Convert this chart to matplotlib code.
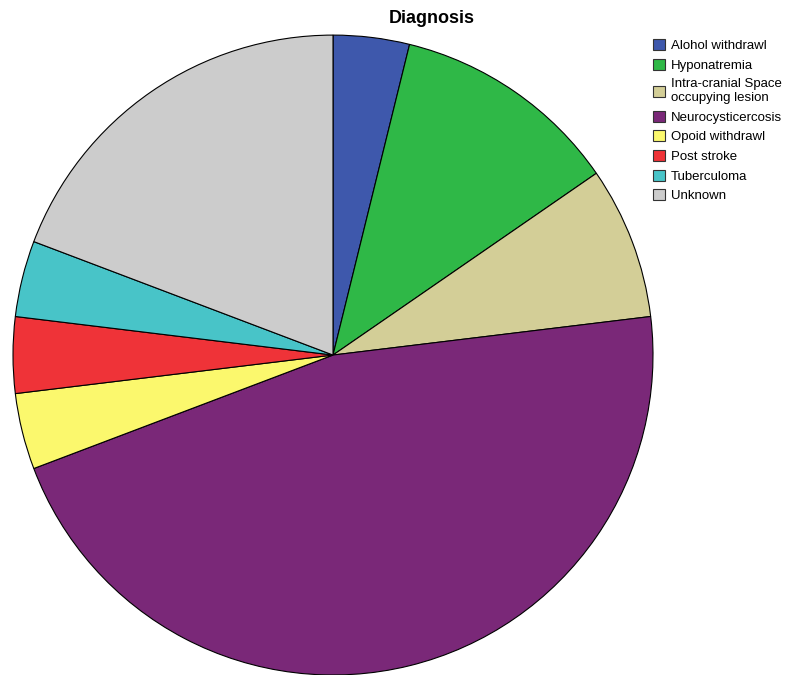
import matplotlib
matplotlib.use('Agg')
import matplotlib.pyplot as plt
from matplotlib.patches import Patch

plt.rcParams['font.family'] = ['Liberation Sans', 'DejaVu Sans']

categories = ['Alohol withdrawl', 'Hyponatremia', 'Intra-cranial Space\noccupying lesion',
              'Neurocysticercosis', 'Opoid withdrawl', 'Post stroke', 'Tuberculoma', 'Unknown']
counts = [1, 3, 2, 12, 1, 1, 1, 5]
colors = ['#3e58ac', '#2fb847', '#d3ce97', '#7a2878', '#fbf86d', '#ef3338', '#48c4c8', '#cccccc']

fig = plt.figure(figsize=(8.03, 6.75), dpi=100)
ax = fig.add_axes([0.0162, 0.0, 0.797, 0.948])

ax.pie(counts, colors=colors, startangle=90, counterclock=False,
       wedgeprops={'edgecolor': 'black', 'linewidth': 0.8})
ax.set_xlim(-1.0, 1.0)
ax.set_ylim(-1.0, 1.0)
ax.set_aspect('auto')
ax.axis('off')

fig.text(0.538, 0.972, 'Diagnosis', ha='center', va='center', fontsize=13, fontweight='bold')

handles = [Patch(facecolor=c, edgecolor='#333333', linewidth=0.8) for c in colors]
fig.legend(handles, categories, loc='upper left', bbox_to_anchor=(0.813, 0.942),
           frameon=False, fontsize=9.5, handlelength=0.9, handleheight=0.9,
           handletextpad=0.45, labelspacing=0.5, borderaxespad=0, borderpad=0)

fig.savefig('out.png', dpi=100)
